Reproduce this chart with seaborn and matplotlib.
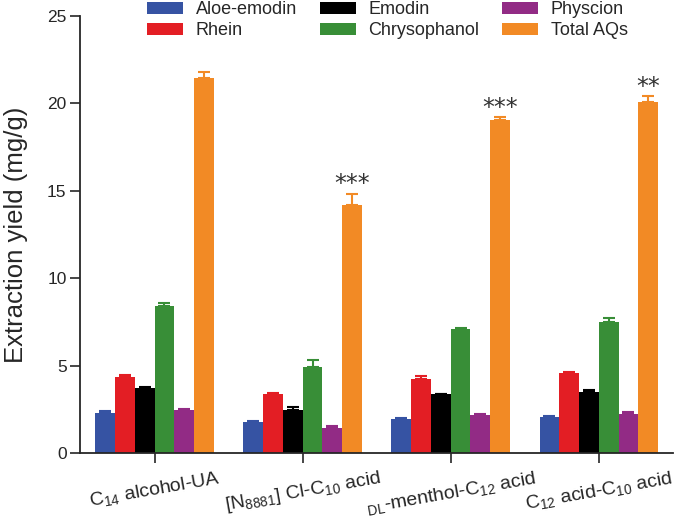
import numpy as np
import pandas as pd
import matplotlib
matplotlib.use('Agg')
import matplotlib.pyplot as plt
import seaborn as sns

# solvents (x groups) and compounds (hue)
solvents = ['C$_{14}$ alcohol-UA', '[N$_{8881}$] Cl-C$_{10}$ acid',
            '$_{DL}$-menthol-C$_{12}$ acid', 'C$_{12}$ acid-C$_{10}$ acid']
compounds = ['Aloe-emodin', 'Rhein', 'Emodin', 'Chrysophanol', 'Physcion', 'Total AQs']

aloe_emodin = [2.31, 1.76, 1.94, 2.06]
rhein = [4.37, 3.37, 4.23, 4.56]
emodin = [3.70, 2.46, 3.37, 3.51]
chrysophanol = [8.41, 4.90, 7.09, 7.49]
physcion = [2.44, 1.41, 2.17, 2.21]
total_aqs = [21.45, 14.17, 19.05, 20.06]

aloe_emodin_err = [0.07, 0.09, 0.04, 0.03]
rhein_err = [0.07, 0.08, 0.19, 0.06]
emodin_err = [0.09, 0.19, 0.03, 0.07]
chrysophanol_err = [0.19, 0.40, 0.05, 0.23]
physcion_err = [0.08, 0.15, 0.07, 0.12]
total_aqs_err = [0.35, 0.66, 0.17, 0.34]

stars = ['', '***', '***', '**']

colors = ['#3653A3', '#E31E24', '#000000', '#388E37', '#922B85', '#F28A25']

values = [aloe_emodin, rhein, emodin, chrysophanol, physcion, total_aqs]
errors = [aloe_emodin_err, rhein_err, emodin_err, chrysophanol_err, physcion_err, total_aqs_err]

rows = []
for c, vals, errs in zip(compounds, values, errors):
    for s, v, e in zip(solvents, vals, errs):
        rows.append({'solvent': s, 'compound': c, 'value': v, 'err': e})
df = pd.DataFrame(rows)

sns.set_style('ticks')
plt.rcParams['font.family'] = ['Liberation Sans', 'DejaVu Sans']
plt.rcParams['mathtext.fontset'] = 'custom'
plt.rcParams['mathtext.rm'] = 'Liberation Sans'
plt.rcParams['mathtext.it'] = 'Liberation Sans'
plt.rcParams['mathtext.default'] = 'regular'

fig = plt.figure(figsize=(6.88, 5.18), dpi=100)
ax = fig.add_axes([0.117, 0.1255, 0.861, 0.8435])

sns.barplot(data=df, x='solvent', y='value', hue='compound', hue_order=compounds,
            order=solvents, palette=colors, width=0.8, ax=ax, errorbar=None,
            saturation=1, linewidth=0, legend=True)
bar_containers = list(ax.containers)

# upper error bars, bar by bar
for cont, comp, col in zip(bar_containers, compounds, colors):
    sub = df[df['compound'] == comp]
    xs = [p.get_x() + p.get_width() / 2 for p in cont.patches]
    ax.errorbar(xs, sub['value'], yerr=[np.zeros(len(sub)), sub['err']],
                fmt='none', ecolor=col, elinewidth=1.5, capsize=4, capthick=1.5)

# significance marks on total AQs
tot = bar_containers[-1]
sub = df[df['compound'] == 'Total AQs']
for p, v, e, s in zip(tot.patches, sub['value'], sub['err'], stars):
    if s:
        ax.text(p.get_x() + p.get_width() / 2, v + e - 0.15, s, ha='center', va='bottom',
                fontsize=17, color='#333333', family='DejaVu Sans')

ax.set_ylim(0, 25)
ax.set_yticks([0, 5, 10, 15, 20, 25])
ax.set_xlim(-0.5, 3.5)
ax.set_xlabel('')
ax.set_ylabel('Extraction yield (mg/g)', fontsize=18.5, labelpad=14)
ax.tick_params(axis='y', labelsize=12.5, width=1.2, length=7, pad=3)
ax.tick_params(axis='x', labelsize=14, width=1.2, length=7, pad=4)
plt.setp(ax.get_xticklabels(), rotation=10, ha='center')
for sp in ['left', 'bottom']:
    ax.spines[sp].set_linewidth(1.3)
sns.despine(ax=ax)

handles, labels = ax.get_legend_handles_labels()
ax.get_legend().remove()
fig.legend(handles, labels, ncol=3, loc='upper left', bbox_to_anchor=(147 / 688, 1 - 1 / 518),
           frameon=False, fontsize=13, handlelength=2.0, handleheight=0.65,
           columnspacing=1.25, labelspacing=0.22, handletextpad=0.7,
           borderpad=0, borderaxespad=0)

fig.savefig('out.png', dpi=100)
